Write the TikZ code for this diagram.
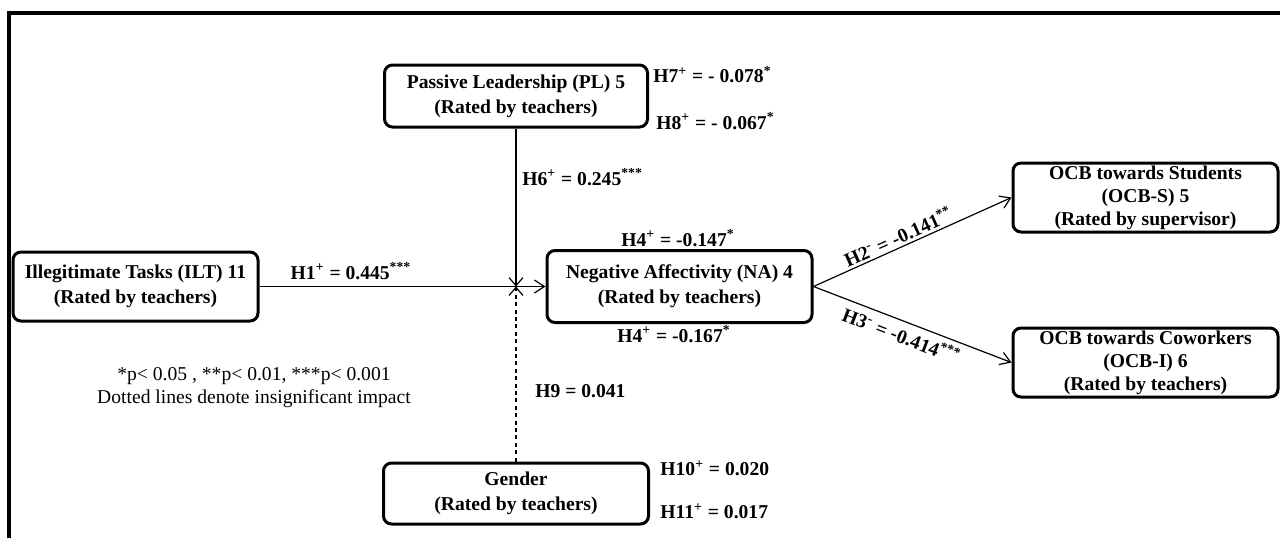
\documentclass[tikz,border=0pt]{standalone}
\usepackage{fontspec}
\setmainfont{Liberation Serif}
\usetikzlibrary{arrows.meta}
\begin{document}
\begin{tikzpicture}[x=0.5pt,y=-0.5pt,
  box/.style={draw, line width=1.5pt, rounded corners=4pt, align=center,
    inner sep=0pt, font=\fontsize{9.8}{12.5}\selectfont\bfseries},
  box3/.style={box, font=\fontsize{9.8}{11.5}\selectfont\bfseries},
  lbl/.style={inner sep=0pt, font=\fontsize{9.8}{12}\selectfont\bfseries},
  conn/.style={line width=0.6pt, -{Straight Barb[length=5pt,width=6.5pt]}},
  jconn/.style={line width=0.6pt, -{Straight Barb[length=4pt,width=7pt]}},
  dashline/.style={jconn, dash pattern=on 2pt off 1.7pt}
]
\useasboundingbox (0,0) rectangle (1280,538);
\draw[line width=2pt] (9,538) -- (9,13) -- (1280,13);

\node[box, minimum width=131.5pt, minimum height=31pt] (PL) at (516,96)
  {Passive Leadership (PL) 5\\(Rated by teachers)};
\node[box, minimum width=122.5pt, minimum height=34.5pt] (ILT) at (135.5,286.5)
  {Illegitimate Tasks (ILT) 11\\(Rated by teachers)};
\node[box, minimum width=132.5pt, minimum height=36pt] (NA) at (679.5,286.5)
  {Negative Affectivity (NA) 4\\(Rated by teachers)};
\node[box, minimum width=132.5pt, minimum height=30.5pt] (G) at (516,493.5)
  {Gender\\(Rated by teachers)};
\node[box3, minimum width=132.5pt, minimum height=34.5pt] (OS) at (1145.5,197.5)
  {OCB towards Students\\(OCB-S) 5\\(Rated by supervisor)};
\node[box3, minimum width=132.5pt, minimum height=34.5pt] (OI) at (1145.5,362.5)
  {OCB towards Coworkers\\(OCB-I) 6\\(Rated by teachers)};

\coordinate (J) at (PL.south |- NA.west);
\draw[conn] (ILT.east |- NA.west) -- (NA.west);
\draw[jconn] (PL.south) -- (J);
\draw[dashline] (G.north) -- (J);
\draw[conn] (NA.east) -- node[lbl, pos=0.45, above=1pt, sloped]
  {H2\textsuperscript{-} = -0.141\textsuperscript{**}} (OS.west);
\draw[conn] (NA.east) -- node[lbl, pos=0.47, below=2.5pt, sloped]
  {H3\textsuperscript{-} = -0.414\textsuperscript{***}} (OI.west);

\node[lbl, anchor=west] (h7) at (653,74.5) {H7\textsuperscript{+} = - 0.078\textsuperscript{*}};
\node[lbl, anchor=west] (h8) at (656,121) {H8\textsuperscript{+} = - 0.067\textsuperscript{*}};
\node[lbl, anchor=west] (h6) at (522,177) {H6\textsuperscript{+} = 0.245\textsuperscript{***}};
\node[lbl] (h4a) at (678,238) {H4\textsuperscript{+} = -0.147\textsuperscript{*}};
\node[lbl] (h4b) at (674,334) {H4\textsuperscript{+} = -0.167\textsuperscript{*}};
\node[lbl] (h1) at (351,271) {H1\textsuperscript{+} = 0.445\textsuperscript{***}};
\node[lbl, anchor=west] (h9) at (535,391) {H9 = 0.041};
\node[lbl, anchor=west] (h10) at (660,468) {H10\textsuperscript{+} = 0.020};
\node[lbl, anchor=west] (h11) at (660,511) {H11\textsuperscript{+} = 0.017};
\node[inner sep=0pt, align=center, font=\fontsize{9.8}{11.5}\selectfont] (leg) at (254,388)
  {*p< 0.05 , **p< 0.01, ***p< 0.001\\Dotted lines denote insignificant impact};
\end{tikzpicture}
\end{document}
